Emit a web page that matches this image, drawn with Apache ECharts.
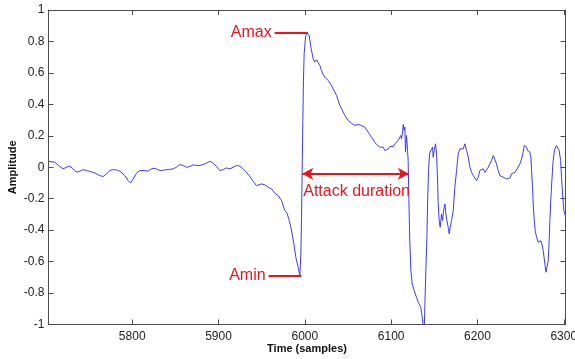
<!DOCTYPE html>
<html>
<head>
<meta charset="utf-8">
<script src="https://cdn.jsdelivr.net/npm/echarts@6/dist/echarts.min.js"></script>
<style>html,body{margin:0;padding:0;background:#fff;}#c{width:575px;height:359px;}</style>
</head>
<body>
<div id="c"></div>
<script>
const timeSamples = [
5702.6,5710.3,5716.1,5719.9,5723.8,5727.7,5731.5,5735.4,5739.3,5743.1,5747.0,5750.9,5756.6,5762.4,5766.3,5770.2,5774.0,5777.9,5781.8,5785.6,5791.4,5795.3,5798.0,5801.1,5805.0,5808.8,5814.6,5818.5,5822.3,5826.2,5830.1,5833.9,5837.8,5841.6,
5847.4,5851.3,5855.2,5859.0,5862.9,5866.7,5870.6,5874.5,5878.3,5882.2,5886.1,5889.9,5893.8,5897.6,5901.5,5905.4,5909.2,5913.1,5917.0,5920.8,5924.7,5928.5,5932.4,5936.3,5940.1,5944.0,5945.9,5949.8,5953.7,5957.5,5961.4,5965.2,5969.1,5973.0,5976.8,5979.5,5981.9,5983.4,5985.3,5987.3,5989.6,5992.3,5994.2,
5995.4,5996.1,5996.9,5997.7,5998.4,5999.2,6000.8,6002.3,6003.9,6005.0,6007.0,6008.5,6009.6,6011.6,6013.5,6015.4,6017.4,6019.3,6021.2,6023.2,6025.1,6027.0,6029.0,6030.9,6032.8,6034.8,6036.7,6038.6,6040.6,6042.5,6044.4,6046.3,6048.3,6050.2,6052.1,6054.1,6056.0,6057.9,6061.8,6065.7,6069.5,6073.4,6077.2,6081.1,6083.0,6085.0,6086.9,6088.8,6090.8,6092.7,6094.6,6096.6,6098.5,6100.4,6102.4,6104.3,6106.2,6108.2,6110.1,6111.2,6112.0,6113.2,6114.0,6115.1,6115.9,6116.6,6117.8,6119.0,
6119.7,6120.5,6121.5,6122.9,6124.4,6126.7,6129.4,6131.4,6133.3,6134.4,6136.0,6137.1,6137.8,6138.5,6139.1,6140.2,6141.4,6142.2,6143.3,6144.5,6146.0,6148.0,6148.7,6149.9,6151.4,6152.6,6153.8,6154.5,6155.7,6156.8,6158.4,6159.6,6160.7,6162.3,6163.4,6164.6,6166.1,6167.3,6168.4,6170.0,6171.9,6173.8,6175.8,6177.7,6179.6,6181.6,6183.5,6185.4,6187.4,6189.3,6191.2,6193.2,6195.1,6197.0,6199.0,6200.9,
6202.8,6204.7,6206.7,6208.6,6210.5,6212.5,6214.4,6216.3,6218.3,6219.4,6220.6,6222.1,6224.0,6226.0,6227.9,6229.8,6231.8,6233.7,6235.6,6237.6,6239.5,6241.4,6243.4,6245.3,6247.2,6249.2,6251.1,6253.0,6254.2,6255.0,6256.9,6258.0,6259.2,6260.7,6261.9,6262.7,6263.8,6264.6,6265.8,6266.9,6268.5,6270.4,6272.3,6273.5,6274.7,6276.2,6278.1,6279.3,6280.8,6282.0,6283.2,6283.9,6285.1,6286.2,6287.4,6288.6,6289.7,6291.6,6293.6,6294.7,6296.3,6297.4,6298.6,6300.1,6301.7
];
const amplitude = [
0.038,0.032,0.005,-0.010,0.000,0.007,-0.010,-0.032,-0.025,-0.015,-0.021,-0.027,-0.036,-0.053,-0.059,-0.042,-0.021,-0.015,-0.017,-0.025,-0.053,-0.085,-0.100,-0.074,-0.038,-0.021,-0.021,-0.025,-0.010,-0.006,-0.017,-0.021,-0.017,-0.015,
-0.010,0.000,0.017,0.011,0.000,0.005,0.015,0.011,0.011,0.017,0.026,0.038,0.026,0.005,-0.021,-0.015,-0.004,-0.010,0.000,0.011,0.007,-0.010,-0.032,-0.059,-0.089,-0.117,-0.127,-0.106,-0.112,-0.127,-0.138,-0.165,-0.180,-0.212,-0.276,-0.293,-0.339,-0.371,-0.424,-0.488,-0.573,-0.637,-0.690,
-0.552,-0.339,-0.021,0.297,0.552,0.722,0.828,0.854,0.860,0.839,0.764,0.722,0.690,0.669,0.684,0.680,0.648,0.616,0.590,0.573,0.569,0.552,0.542,0.520,0.499,0.478,0.457,0.425,0.393,0.372,0.351,0.329,0.319,0.297,0.287,0.280,0.272,0.266,0.272,0.266,0.255,0.223,0.191,0.159,0.145,0.138,0.128,0.121,0.128,0.106,0.096,0.117,0.132,0.138,0.132,0.149,0.153,0.170,0.160,0.202,0.181,0.223,0.272,0.234,0.255,0.096,0.202,0.106,
0.043,-0.200,-0.450,-0.658,-0.743,-0.785,-0.828,-0.859,-0.849,-0.891,-0.955,-1.008,-1.060,-1.000,-0.870,-0.658,-0.446,-0.233,-0.021,0.085,0.106,0.128,0.064,0.106,0.149,0.085,-0.085,-0.233,-0.339,-0.382,-0.297,-0.339,-0.276,-0.233,-0.297,-0.339,-0.382,-0.424,-0.382,-0.339,-0.276,-0.127,-0.021,0.085,0.117,0.128,0.117,0.149,0.106,0.064,0.000,-0.032,-0.053,-0.063,-0.085,-0.063,
-0.020,-0.021,-0.010,-0.032,-0.042,0.000,0.021,0.043,0.075,0.085,0.064,0.021,-0.021,-0.053,-0.063,-0.063,-0.068,-0.074,-0.074,-0.068,-0.042,-0.038,-0.032,-0.017,-0.010,0.021,0.053,0.096,0.138,0.149,0.128,0.106,0.117,0.096,0.064,-0.021,-0.127,-0.233,-0.339,-0.403,-0.446,-0.477,-0.477,-0.467,-0.488,-0.530,-0.615,-0.668,-0.668,-0.594,-0.446,-0.339,-0.191,-0.085,0.021,0.085,0.117,0.138,0.128,0.106,0.043,-0.063,-0.170,-0.276,-0.308
];
const xTickValues = [5800, 5900, 6000, 6100, 6200, 6300];
const xRange = [5703, 6302];
const yRange = [-1, 1];
const yStep = 0.2;
const amaxLevel = 0.854, amaxFrom = 5965, amaxTo = 6003.5;
const aminLevel = -0.69, aminFrom = 5958, aminTo = 5996;
const attackLevel = -0.042, attackStart = 5997, attackEnd = 6120.5;
const labels = { amax: 'Amax', amin: 'Amin', attack: 'Attack duration', xName: 'Time (samples)', yName: 'Amplitude' };

const red = '#e8161c';
const axisColor = '#4d4d4d';
const fontFam = 'Liberation Sans, Arial, sans-serif';

const chart = echarts.init(document.getElementById('c'), null, { renderer: 'canvas' });
const seriesData = timeSamples.map((t, i) => [t, amplitude[i]]);

const baseX = {
  type: 'value', min: xRange[0], max: xRange[1],
  axisLine: { show: true, onZero: false, lineStyle: { color: axisColor, width: 1 } },
  axisTick: { show: true, inside: true, length: 5, customValues: xTickValues, lineStyle: { color: axisColor } },
  splitLine: { show: false }
};
const baseY = {
  type: 'value', min: yRange[0], max: yRange[1], interval: yStep,
  axisLine: { show: true, onZero: false, lineStyle: { color: axisColor, width: 1 } },
  axisTick: { show: true, inside: true, length: 5, lineStyle: { color: axisColor } },
  splitLine: { show: false }
};

chart.setOption({
  animation: false,
  backgroundColor: '#fff',
  grid: { left: 48.5, right: 9.5, top: 10, bottom: 34.5, containLabel: false, outerBoundsMode: 'none' },
  xAxis: [
    Object.assign({}, baseX, {
      position: 'bottom',
      axisLabel: { show: true, customValues: xTickValues, margin: 6, fontSize: 12, color: '#222', fontFamily: fontFam, formatter: v => String(Math.round(v)) },
      name: labels.xName, nameLocation: 'middle', nameGap: 19, nameMoveOverlap: false,
      nameTextStyle: { fontWeight: 'bold', fontSize: 11, color: '#111', fontFamily: fontFam }
    }),
    Object.assign({}, baseX, { position: 'top', axisLabel: { show: false } })
  ],
  yAxis: [
    Object.assign({}, baseY, {
      position: 'left',
      axisLabel: { show: true, margin: 4, fontSize: 12, color: '#222', fontFamily: fontFam },
      name: labels.yName, nameLocation: 'middle', nameGap: 30, nameRotate: 90, nameMoveOverlap: false,
      nameTextStyle: { fontWeight: 'bold', fontSize: 11, color: '#111', fontFamily: fontFam }
    }),
    Object.assign({}, baseY, { position: 'right', axisLabel: { show: false } })
  ],
  series: [{
    type: 'line',
    xAxisIndex: 0, yAxisIndex: 0,
    data: seriesData,
    showSymbol: false,
    symbol: 'none',
    clip: true,
    lineStyle: { color: '#3c3cf0', width: 1 },
    markLine: {
      silent: true,
      animation: false,
      lineStyle: { color: red, width: 2, type: 'solid' },
      label: { color: red, fontSize: 16, fontFamily: fontFam },
      data: [
        [{ coord: [amaxFrom, amaxLevel], symbol: 'none', label: { position: 'start', formatter: labels.amax, distance: 3 } },
         { coord: [amaxTo, amaxLevel], symbol: 'none' }],
        [{ coord: [aminFrom, aminLevel], symbol: 'none', label: { position: 'start', formatter: labels.amin, distance: 3 } },
         { coord: [aminTo, aminLevel], symbol: 'none' }],
        [{ coord: [attackStart, attackLevel], symbol: 'arrow', symbolSize: [9, 11], label: { position: 'insideStartBottom', formatter: labels.attack, distance: [1, 10] } },
         { coord: [attackEnd, attackLevel], symbol: 'arrow', symbolSize: [9, 11] }]
      ]
    }
  }]
});
</script>
</body>
</html>
